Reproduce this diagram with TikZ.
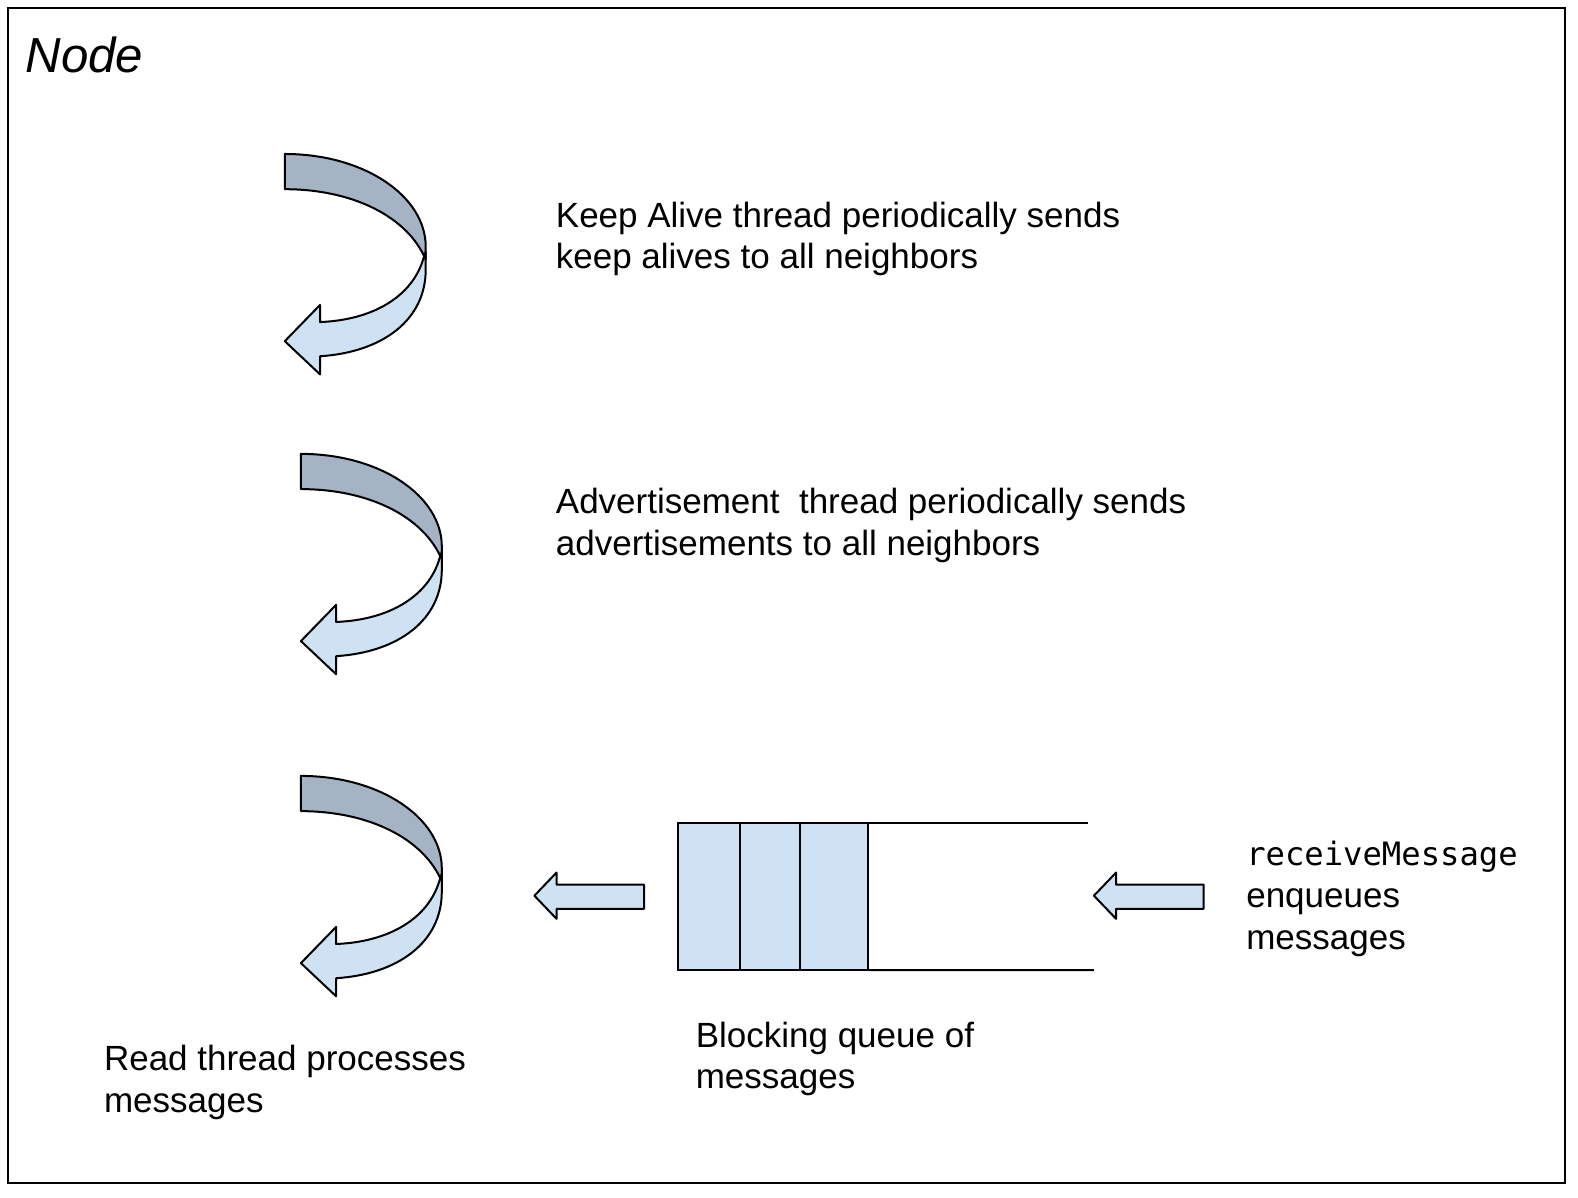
\documentclass[tikz,border=0pt]{standalone}
\usepackage{fontspec}
\setmainfont{Liberation Sans}
\setsansfont{Liberation Sans}
\setmonofont{DejaVu Sans Mono}
\usetikzlibrary{positioning}
\definecolor{bandfront}{HTML}{CFE2F3}
\definecolor{bandback}{HTML}{A4B4C4}
\tikzset{band/.style = {draw, line width = 1pt, line join = round}}
\tikzset{label/.style = {anchor = base west, inner sep = 0, align = left,
                         font = \fontsize{17.5}{20.8}\selectfont}}
\tikzset{cell/.style = {draw, line width = 1pt, fill = bandfront, outer sep = 0,
                        minimum height = 73.5pt, inner sep = 0}}

\begin{document}
\begin{tikzpicture}[x = 0.5032pt, y = -0.5032pt]
    \useasboundingbox (0, 0) rectangle (1568, 1190.4);
    \draw [line width = 1pt] (8, 8) rectangle (1555, 1175);
    \node [label, font = \fontsize{24.6}{28}\selectfont\itshape] (title) at (25, 72) {Node};
    % curved thread arrows
    \foreach \dx/\dy in {0/0, 16/298, 16/618} {
      \begin{scope}[shift = {(\dx, \dy)}]
        \draw [band, fill = bandback] (283, 153) .. controls (362, 153) and (423, 195) .. (423, 245)
          -- (423, 258) .. controls (405, 215) and (350, 188) .. (283, 188) -- cycle;
        \draw [band, fill = bandfront] (421, 256) .. controls (410, 295) and (370, 318) .. (318, 320)
          -- (318, 303) -- (283, 339) -- (318, 372) -- (318, 354)
          .. controls (380, 350) and (423, 318) .. (423, 268) -- (423, 250) -- cycle;
      \end{scope}
    }
    \node [label] (keepalive) at (552, 267) {Keep Alive thread periodically sends\\keep alives to all neighbors};
    \node [label] (advert) at (552, 552) {Advertisement\ \ thread periodically sends\\advertisements to all neighbors};
    \node [label] (read) at (103, 1105) {Read thread processes\\messages};
    % blocking queue
    \node [cell, minimum width = 30.7pt, anchor = north west] (q1) at (674, 818) {};
    \node [cell, minimum width = 30.2pt, right = 0pt of q1] (q2) {};
    \node [cell, minimum width = 34.2pt, right = 0pt of q2] (q3) {};
    \coordinate (qtop) at (1081, 818);
    \coordinate (qbot) at (1087, 964);
    \draw [line width = 1pt] (q3.north east) -- (qtop);
    \draw [line width = 1pt] (q3.south east) -- (qbot);
    \node [label] (queue) at (691, 1082) {Blocking queue of\\messages};
    % block arrows in and out of the queue
    \draw [band, fill = bandfront] (640, 879) -- (553, 879) -- (553, 867) -- (531, 890)
      -- (553, 913) -- (553, 903) -- (640, 903) -- cycle;
    \draw [band, fill = bandfront] (1196, 879) -- (1109, 879) -- (1109, 867) -- (1087, 890)
      -- (1109, 913) -- (1109, 903) -- (1196, 903) -- cycle;
    \node [label] (recv) at (1238, 943) {\fontsize{16.1}{20.8}\selectfont\ttfamily receiveMessage\\enqueues\\messages};
\end{tikzpicture}
\end{document}
